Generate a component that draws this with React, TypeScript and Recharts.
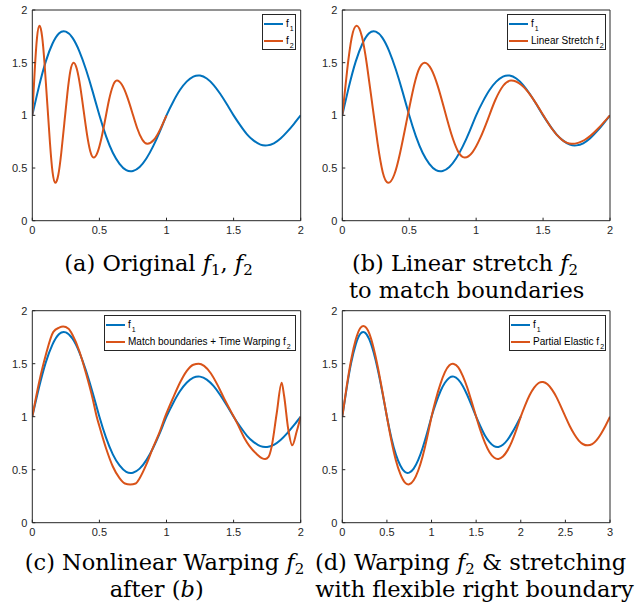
import React from 'react';
import { LineChart, Line, XAxis, YAxis, Legend } from 'recharts';

const BLUE = '#0072BD';
const ORANGE = '#D95319';
const AXIS = '#262626';
const SANS = '"Liberation Sans", Arial, Helvetica, sans-serif';
const SERIF = '"DejaVu Serif", serif';

// f1 on [0, 2]
const f1T = [0, 0.05, 0.1, 0.15, 0.2, 0.25, 0.3, 0.35, 0.4, 0.45, 0.5, 0.55, 0.6, 0.65, 0.7, 0.75, 0.8, 0.85, 0.9, 0.95, 1.0,
  1.05, 1.1, 1.15, 1.2, 1.25, 1.3, 1.35, 1.4, 1.45, 1.5, 1.55, 1.6, 1.65, 1.7, 1.75, 1.8, 1.85, 1.9, 1.95, 2.0];
const f1V = [1.0, 1.275, 1.51, 1.68, 1.78, 1.795, 1.735, 1.61, 1.435, 1.225, 1.0, 0.8, 0.645, 0.54, 0.48, 0.472, 0.51, 0.59, 0.705, 0.845, 1.0,
  1.13, 1.24, 1.32, 1.368, 1.378, 1.35, 1.29, 1.205, 1.105, 1.0, 0.905, 0.82, 0.76, 0.722, 0.715, 0.735, 0.78, 0.845, 0.92, 1.0];

// (a) original f2 on [0, 1]
const f2aT = [0, 0.018, 0.035, 0.053, 0.073, 0.092, 0.112, 0.132, 0.151, 0.171, 0.194, 0.216, 0.239, 0.262, 0.284, 0.307, 0.332, 0.357,
  0.382, 0.407, 0.432, 0.457, 0.486, 0.515, 0.544, 0.572, 0.601, 0.63, 0.668, 0.706, 0.744, 0.781, 0.819, 0.857, 0.905, 0.952, 1.0];
const f2aV = [1.0, 1.425, 1.736, 1.85, 1.75, 1.478, 1.105, 0.733, 0.46, 0.36, 0.436, 0.645, 0.93, 1.215, 1.424, 1.5, 1.44, 1.275,
  1.05, 0.825, 0.66, 0.6, 0.649, 0.783, 0.965, 1.148, 1.281, 1.33, 1.29, 1.18, 1.03, 0.88, 0.77, 0.73, 0.766, 0.865, 1.0];

// (b) linearly stretched f2 on [0, 2]
const f2bT = [0, 0.036, 0.07, 0.106, 0.146, 0.184, 0.224, 0.264, 0.302, 0.342, 0.388, 0.432, 0.478, 0.524, 0.568, 0.614, 0.664, 0.714,
  0.764, 0.814, 0.864, 0.914, 0.972, 1.03, 1.088, 1.144, 1.202, 1.26, 1.336, 1.412, 1.488, 1.562, 1.638, 1.714, 1.81, 1.904, 2.0];
const f2bV = [1.0, 1.425, 1.736, 1.85, 1.75, 1.478, 1.105, 0.733, 0.46, 0.36, 0.436, 0.645, 0.93, 1.215, 1.424, 1.5, 1.44, 1.275,
  1.05, 0.825, 0.66, 0.6, 0.649, 0.783, 0.965, 1.148, 1.281, 1.33, 1.29, 1.18, 1.03, 0.88, 0.77, 0.73, 0.766, 0.865, 1.0];

// (c) boundaries matched + time warped f2 on [0, 2]
const f2cT = [0, 0.05, 0.1, 0.157, 0.2, 0.23, 0.27, 0.3, 0.35, 0.4, 0.45, 0.48, 0.5, 0.55, 0.6, 0.65, 0.69, 0.73, 0.77, 0.8, 0.85,
  0.9, 0.95, 0.99, 1.05, 1.1, 1.15, 1.2, 1.24, 1.28, 1.33, 1.38, 1.43, 1.48, 1.53, 1.58, 1.62, 1.67, 1.71, 1.735, 1.76, 1.784,
  1.821, 1.858, 1.876, 1.908, 1.937, 1.97, 2.0];
const f2cV = [1.0, 1.32, 1.58, 1.8, 1.84, 1.85, 1.83, 1.77, 1.62, 1.41, 1.17, 1.0, 0.91, 0.7, 0.53, 0.42, 0.37, 0.36, 0.37, 0.42, 0.55,
  0.71, 0.86, 1.0, 1.18, 1.32, 1.43, 1.49, 1.5, 1.48, 1.41, 1.3, 1.17, 1.05, 0.93, 0.8, 0.72, 0.65, 0.61, 0.6, 0.62, 0.72,
  1.03, 1.32, 1.2, 0.875, 0.73, 0.86, 1.0];

// (d) partial elastic f2 on [0, 3]
const f2dT = [0, 0.05, 0.1, 0.15, 0.2, 0.25, 0.3, 0.35, 0.4, 0.45, 0.5, 0.55, 0.6, 0.65, 0.7, 0.75, 0.8, 0.85, 0.9, 0.95, 1.0,
  1.05, 1.1, 1.15, 1.2, 1.25, 1.3, 1.35, 1.4, 1.45, 1.5, 1.55, 1.6, 1.65, 1.7, 1.75, 1.8, 1.85, 1.9, 1.95, 2.0,
  2.05, 2.1, 2.15, 2.2, 2.25, 2.3, 2.35, 2.4, 2.45, 2.5, 2.55, 2.6, 2.65, 2.7, 2.75, 2.8, 2.85, 2.9, 2.95, 3.0];
const f2dV = [1.0, 1.29, 1.54, 1.725, 1.835, 1.852, 1.79, 1.65, 1.46, 1.235, 1.0, 0.775, 0.59, 0.46, 0.38, 0.362, 0.4, 0.49, 0.625, 0.8, 1.0,
  1.17, 1.31, 1.42, 1.485, 1.498, 1.465, 1.385, 1.275, 1.14, 1.0, 0.865, 0.75, 0.665, 0.615, 0.602, 0.625, 0.68, 0.765, 0.875, 1.0,
  1.11, 1.205, 1.275, 1.318, 1.327, 1.305, 1.255, 1.185, 1.095, 1.0, 0.91, 0.835, 0.775, 0.74, 0.73, 0.742, 0.78, 0.84, 0.915, 1.0];

const xTicks2 = [0, 0.5, 1, 1.5, 2];
const xTicks3 = [0, 0.5, 1, 1.5, 2, 2.5, 3];
const yTicks = [0, 0.5, 1, 1.5, 2];

const zip = (xs: number[], ys: number[]) => xs.map((x, i) => ({ x, y: ys[i] }));

type Lab = { text: string; sub: string; color: string };

const LegendBox = ({ w, h, labels }: { w: number; h: number; labels: Lab[] }) => (
  <div
    style={{
      position: 'relative', width: w, height: h, boxSizing: 'border-box', border: `1px solid ${AXIS}`,
      background: '#fff', fontFamily: SANS, fontSize: 10, color: '#000', lineHeight: '15px',
    }}
  >
    {labels.map((lab, i) => (
      <div key={i} style={{ position: 'absolute', left: 1, top: i === 0 ? 1 : 18, height: 15, display: 'flex', alignItems: 'center', whiteSpace: 'nowrap' }}>
        <span style={{ display: 'inline-block', width: 19, height: 2, background: lab.color, marginRight: 3 }} />
        <span>
          {lab.text}
          <span style={{ fontSize: 7, position: 'relative', top: 4, marginLeft: 1 }}>{lab.sub}</span>
        </span>
      </div>
    ))}
  </div>
);

type Series = { name: string; data: { x: number; y: number }[]; color: string; curve: 'natural' | 'monotone' };

type PanelProps = {
  left: number; top: number;
  plot: { l: number; t: number; r: number; b: number };
  xMax: number; xTicks: number[];
  series: Series[];
  legend: { x: number; y: number; w: number; h: number; labels: Lab[] };
};

const W = 320;
const H = 250;

const Panel = ({ left, top, plot, xMax, xTicks, series, legend }: PanelProps) => (
  <div style={{ position: 'absolute', left, top }}>
    <LineChart width={W} height={H} margin={{ top: plot.t - 1, right: W - plot.r - 1, left: 0, bottom: 0 }}>
      <XAxis xAxisId="b" type="number" dataKey="x" domain={[0, xMax]} ticks={xTicks} interval={0} allowDataOverflow
        height={H - plot.b} tickSize={-3} tickMargin={8} stroke={AXIS}
        tick={{ fill: AXIS, fontSize: 11, fontFamily: SANS }} />
      <XAxis xAxisId="t" orientation="top" type="number" dataKey="x" domain={[0, xMax]} ticks={xTicks} interval={0} allowDataOverflow
        height={1} tickSize={-3} tick={false} stroke={AXIS} />
      <YAxis yAxisId="l" type="number" domain={[0, 2]} ticks={yTicks} interval={0} allowDataOverflow
        width={plot.l} tickSize={-3} tickMargin={8} stroke={AXIS}
        tick={{ fill: AXIS, fontSize: 11, fontFamily: SANS }} />
      <YAxis yAxisId="r" orientation="right" type="number" domain={[0, 2]} ticks={yTicks} interval={0} allowDataOverflow
        width={1} tickSize={-3} tick={false} stroke={AXIS} />
      {series.map((s) => (
        <Line key={s.name} xAxisId="b" yAxisId="l" data={s.data} dataKey="y" name={s.name} type={s.curve}
          stroke={s.color} strokeWidth={2} dot={false} activeDot={false} isAnimationActive={false} />
      ))}
      <Legend layout="vertical" align="center" verticalAlign="middle"
        wrapperStyle={{ left: legend.x, top: legend.y, width: legend.w, height: legend.h }}
        content={() => <LegendBox w={legend.w} h={legend.h} labels={legend.labels} />} />
    </LineChart>
  </div>
);

const f1Lab: Lab = { text: 'f', sub: '1', color: BLUE };
const SUBSIZE = 15;
const SUBDY = 4;

export default function App() {
  const f1 = zip(f1T, f1V);
  return (
    <div style={{ position: 'absolute', left: 0, top: 0, width: 641, height: 607, background: '#fff', overflow: 'hidden' }}>
      <Panel left={0} top={0} plot={{ l: 32.3, t: 10, r: 300.7, b: 220.7 }} xMax={2} xTicks={xTicks2}
        series={[
          { name: 'f1', data: f1, color: BLUE, curve: 'natural' },
          { name: 'f2', data: zip(f2aT, f2aV), color: ORANGE, curve: 'natural' },
        ]}
        legend={{ x: 262, y: 14, w: 34, h: 36, labels: [f1Lab, { text: 'f', sub: '2', color: ORANGE }] }} />
      <Panel left={320} top={0} plot={{ l: 22.3, t: 10, r: 290, b: 220.7 }} xMax={2} xTicks={xTicks2}
        series={[
          { name: 'f1', data: f1, color: BLUE, curve: 'natural' },
          { name: 'Linear Stretch f2', data: zip(f2bT, f2bV), color: ORANGE, curve: 'natural' },
        ]}
        legend={{ x: 187, y: 14, w: 99, h: 36, labels: [f1Lab, { text: 'Linear Stretch f', sub: '2', color: ORANGE }] }} />
      <Panel left={0} top={300} plot={{ l: 32.3, t: 10.7, r: 300.7, b: 222.7 }} xMax={2} xTicks={xTicks2}
        series={[
          { name: 'f1', data: f1, color: BLUE, curve: 'natural' },
          { name: 'Match boundaries + Time Warping f2', data: zip(f2cT, f2cV), color: ORANGE, curve: 'monotone' },
        ]}
        legend={{ x: 104, y: 15, w: 192, h: 36, labels: [f1Lab, { text: 'Match boundaries + Time Warping f', sub: '2', color: ORANGE }] }} />
      <Panel left={320} top={300} plot={{ l: 22.3, t: 10.7, r: 290, b: 222.7 }} xMax={3} xTicks={xTicks3}
        series={[
          { name: 'f1', data: f1, color: BLUE, curve: 'natural' },
          { name: 'Partial Elastic f2', data: zip(f2dT, f2dV), color: ORANGE, curve: 'natural' },
        ]}
        legend={{ x: 189, y: 15, w: 97, h: 36, labels: [f1Lab, { text: 'Partial Elastic f', sub: '2', color: ORANGE }] }} />
      <svg width={641} height={607} style={{ position: 'absolute', left: 0, top: 0, pointerEvents: 'none' }}
        fontFamily={SERIF} fontSize={22.5} fill="#000">
        <text x={158.5} y={270.7} textAnchor="middle">
          (a) Original <tspan fontStyle="italic">f</tspan><tspan fontSize={SUBSIZE} dy={SUBDY}>1</tspan>
          <tspan dy={-SUBDY}>, </tspan><tspan fontStyle="italic">f</tspan><tspan fontSize={SUBSIZE} dy={SUBDY}>2</tspan>
        </text>
        <text x={465} y={270.7} textAnchor="middle">
          (b) Linear stretch <tspan fontStyle="italic">f</tspan><tspan fontSize={SUBSIZE} dy={SUBDY}>2</tspan>
        </text>
        <text x={466.7} y={298} textAnchor="middle">to match boundaries</text>
        <text x={164.5} y={570} textAnchor="middle">
          (c) Nonlinear Warping <tspan fontStyle="italic">f</tspan><tspan fontSize={SUBSIZE} dy={SUBDY}>2</tspan>
        </text>
        <text x={156.7} y={597.3} textAnchor="middle">after (<tspan fontStyle="italic">b</tspan>)</text>
        <text x={470.5} y={570} textAnchor="middle">
          (d) Warping <tspan fontStyle="italic">f</tspan><tspan fontSize={SUBSIZE} dy={SUBDY}>2</tspan>
          <tspan dy={-SUBDY}> &amp; stretching</tspan>
        </text>
        <text x={474.5} y={597.3} textAnchor="middle">with flexible right boundary</text>
      </svg>
    </div>
  );
}
